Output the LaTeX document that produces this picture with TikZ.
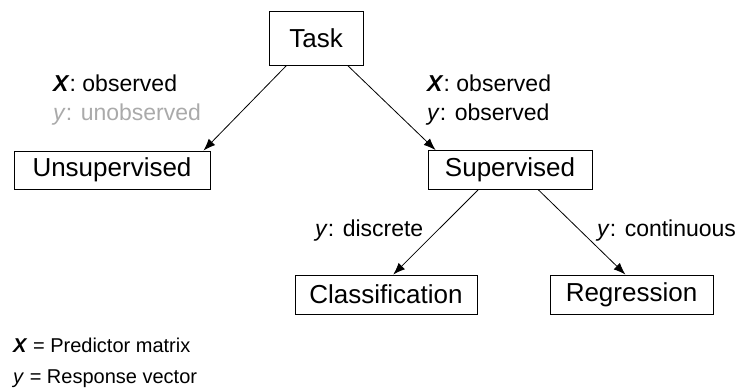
\documentclass[tikz,border=0pt]{standalone}
\usepackage{fontspec}
\setmainfont{Liberation Sans}
\usetikzlibrary{arrows.meta}
\begin{document}
\begin{tikzpicture}[x=1pt,y=-1pt,
  box/.style={draw,line width=0.9pt,inner sep=0pt,font=\fontsize{26}{30}\selectfont},
  lbl/.style={anchor=base west,inner sep=0pt,font=\fontsize{23}{27}\selectfont},
  legend/.style={anchor=base west,inner sep=0pt,font=\fontsize{20}{24}\selectfont},
  conn/.style={line width=0.8pt,-{Latex[length=12pt,width=9pt]}}]
\useasboundingbox (0,0) rectangle (739,388);
\node[box,minimum width=94pt,minimum height=54pt] (task) at (316,38) {Task};
\node[box,minimum width=196pt,minimum height=38pt] (unsup) at (112,170) {Unsupervised};
\node[box,minimum width=164pt,minimum height=39pt] (sup) at (510,170) {Supervised};
\node[box,minimum width=182pt,minimum height=39pt] (cls) at (386,294.5) {Classification};
\node[box,minimum width=163pt,minimum height=39pt] (reg) at (631.5,294.5) {Regression};
\draw[conn] (task.223) -- (unsup.12);
\draw[conn] (task.319) -- (sup.165);
\draw[conn] (sup.212) -- (cls.70);
\draw[conn] (sup.325) -- (reg.107);
\node[lbl] (l1) at (53,91) {\textbf{\textit{X}}: observed};
\node[lbl,text={rgb,255:red,170;green,170;blue,170}] (l2) at (53,120) {\textit{y}: unobserved};
\node[lbl] (l3) at (427,91) {\textbf{\textit{X}}: observed};
\node[lbl] (l4) at (427,120) {\textit{y}: observed};
\node[lbl] (l5) at (315,236) {\textit{y}: discrete};
\node[lbl] (l6) at (597,236) {\textit{y}: continuous};
\node[legend] (g1) at (13,352) {\textbf{\textit{X}} = Predictor matrix};
\node[legend] (g2) at (13,383) {\textit{y} = Response vector};
\end{tikzpicture}
\end{document}
